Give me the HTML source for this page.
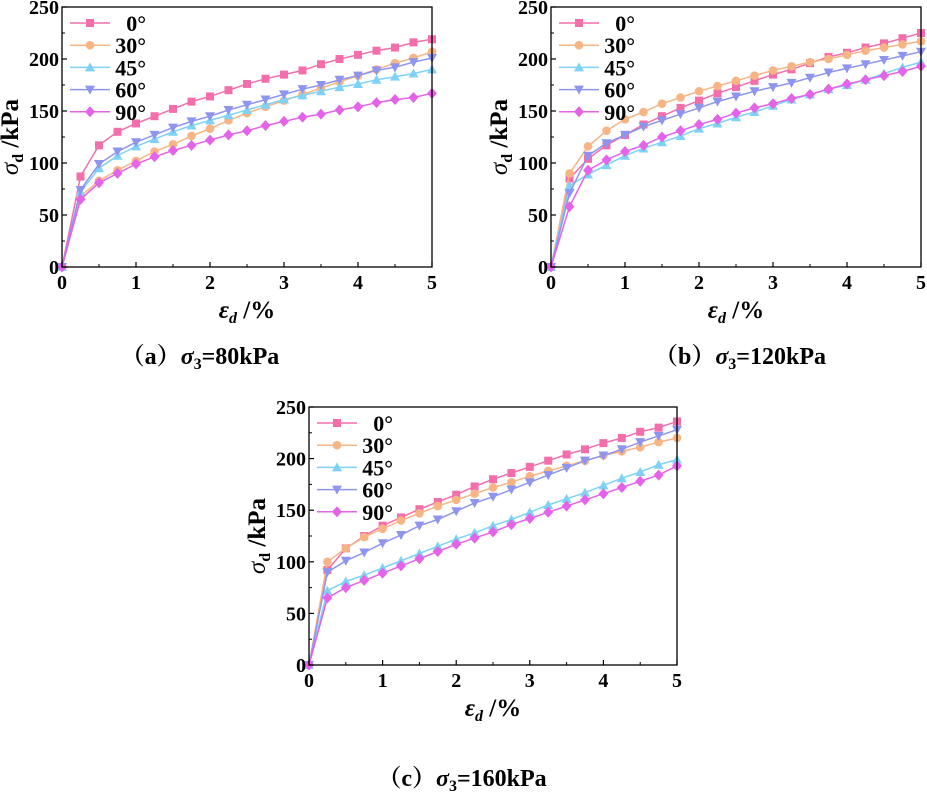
<!DOCTYPE html>
<html><head><meta charset="utf-8"><style>
html,body{margin:0;padding:0;background:#fff;}
svg{display:block;}
text{font-family:"Liberation Serif","Noto Serif CJK SC",serif;font-weight:bold;fill:#000;}
</style></head><body>
<svg id="fig" width="927" height="799" viewBox="0 0 927 799" xmlns="http://www.w3.org/2000/svg"></svg>
<script>
const strainX = [0,0.25,0.5,0.75,1,1.25,1.5,1.75,2,2.25,2.5,2.75,3,3.25,3.5,3.75,4,4.25,4.5,4.75,5];
const seriesNames = ["0°","30°","45°","60°","90°"];
const xTicks = [0,1,2,3,4,5];
const yTicks = [0,50,100,150,200,250];
const panelA0 = [0,87,117,130,138,145,152,159,164,170,176,181,185,189,195,200,204,208,211,216,219];
const panelA30 = [0,68,83,93,102,111,118,126,133,141,148,154,160,166,172,178,184,190,196,201,207];
const panelA45 = [0,72,95,107,116,123,130,136,141,146,151,156,161,165,169,173,176,180,183,186,190];
const panelA60 = [0,74,99,111,120,127,134,140,145,151,156,161,166,171,175,180,184,189,192,197,201];
const panelA90 = [0,65,81,90,99,106,112,117,122,127,131,136,140,144,147,151,154,158,161,163,167];
const panelB0 = [0,85,104,117,127,137,145,153,160,167,173,179,185,190,196,202,206,211,215,220,225];
const panelB30 = [0,90,116,131,142,149,157,163,169,174,179,184,189,193,197,200,204,208,211,214,217];
const panelB45 = [0,78,89,98,107,114,120,126,133,138,144,149,155,161,166,171,175,180,186,192,197];
const panelB60 = [0,71,107,119,127,135,141,147,153,159,164,169,173,177,182,187,191,195,199,203,207];
const panelB90 = [0,58,93,103,111,117,125,131,137,142,148,153,157,162,166,171,176,180,184,188,193];
const panelC0 = [0,92,113,125,135,143,151,158,165,173,180,186,192,198,204,209,215,220,226,230,236];
const panelC30 = [0,100,113,124,132,140,147,154,160,166,172,177,183,188,193,198,203,207,211,216,220];
const panelC45 = [0,72,81,87,94,101,108,115,122,128,135,141,148,155,161,167,174,181,187,194,199];
const panelC60 = [0,90,101,109,118,126,135,141,149,157,163,170,177,184,191,198,203,209,216,222,228];
const panelC90 = [0,65,75,82,89,96,103,110,117,123,129,136,142,148,154,160,166,172,178,184,193];

const colors = ["#f36fac","#f7b585","#7fd2f6","#8e95ee","#e363e9"];
const markers = ["square","circle","triangle","dtriangle","diamond"];
const NS = "http://www.w3.org/2000/svg";
const svg = document.getElementById("fig");
function el(tag, attrs, parent){const e=document.createElementNS(NS,tag);for(const k in attrs)e.setAttribute(k,attrs[k]);(parent||svg).appendChild(e);return e;}

function marker(g,type,x,y,c){
  let m;
  if(type==="square") m=el("rect",{x:x-4,y:y-4,width:8,height:8,fill:c},g);
  else if(type==="circle") m=el("circle",{cx:x,cy:y,r:4.3,fill:c},g);
  else if(type==="triangle") m=el("polygon",{points:`${x},${y-5} ${x-5},${y+4} ${x+5},${y+4}`,fill:c},g);
  else if(type==="dtriangle") m=el("polygon",{points:`${x},${y+5} ${x-5},${y-4} ${x+5},${y-4}`,fill:c},g);
  else m=el("polygon",{points:`${x},${y-5.5} ${x+5},${y} ${x},${y+5.5} ${x-5},${y}`,fill:c},g);
  return m;
}

function panel(id,L,R,T,B,data,caption,capX,capY){
  const g=el("g",{});
  
  
  const sx=v=>L+(v/5)*(R-L);
  const sy=v=>B-(v/250)*(B-T);
  data.forEach((arr,si)=>{
    const sg=el("g",{},g);
    
    
    const pts=arr.map((v,i)=>sx(strainX[i]).toFixed(1)+","+sy(v).toFixed(1)).join(" ");
    el("polyline",{points:pts,fill:"none",stroke:colors[si],"stroke-width":1.5},sg);
    arr.forEach((v,i)=>{const m=marker(sg,markers[si],sx(strainX[i]),sy(v),colors[si]);
      
      });
  });
  const fr=el("rect",{x:L,y:T,width:R-L,height:B-T,fill:"none",stroke:"#000","stroke-width":1.3},g);
  
  
  xTicks.forEach(t=>{
    el("line",{x1:sx(t),x2:sx(t),y1:B,y2:B-5,stroke:"#000","stroke-width":1.2},g);
    if(t<5) el("line",{x1:sx(t+0.5),x2:sx(t+0.5),y1:B,y2:B-3,stroke:"#000","stroke-width":1},g);
    const tx=el("text",{x:sx(t),y:B+22,"text-anchor":"middle","font-size":20},g);tx.textContent=t;
    
    
  });
  yTicks.forEach(t=>{
    el("line",{x1:L,x2:L+5,y1:sy(t),y2:sy(t),stroke:"#000","stroke-width":1.2},g);
    if(t<250) el("line",{x1:L,x2:L+3,y1:sy(t+25),y2:sy(t+25),stroke:"#000","stroke-width":1},g);
    const tx=el("text",{x:L-3,y:sy(t)+7,"text-anchor":"end","font-size":20},g);tx.textContent=t;
    
    
  });
  const yt=el("text",{transform:`translate(${L-44},${(T+B)/2}) rotate(-90)`,"text-anchor":"middle","font-size":25},g);
  yt.innerHTML='<tspan font-style="italic" font-weight="normal">σ</tspan><tspan font-size="16" dy="5">d</tspan><tspan dy="-5"> /kPa</tspan>';
  
  
  const xt=el("text",{x:(L+R)/2,y:B+51,"text-anchor":"middle","font-size":25},g);
  xt.innerHTML='<tspan font-style="italic">ε</tspan><tspan font-style="italic" font-size="16" dy="5">d</tspan><tspan dy="-5"> /%</tspan>';
  
  
  const lg=el("g",{},g);
  
  
  seriesNames.forEach((n,i)=>{
    const y=T+16+i*22.2;
    const eg=el("g",{},lg);
    
    
    el("line",{x1:L+8,x2:L+48,y1:y,y2:y,stroke:colors[i],"stroke-width":1.5},eg);
    marker(eg,markers[i],L+28,y,colors[i]);
    const t=el("text",{x:L+84,y:y+8,"text-anchor":"end","font-size":22},eg);t.textContent=n;
  });
  const cap=el("text",{x:capX,y:capY,"text-anchor":"middle","font-size":24},g);
  cap.innerHTML=caption;
  
  
}
panel("a",62,432,7,267,[panelA0,panelA30,panelA45,panelA60,panelA90],
 '（a）<tspan font-style="italic">σ</tspan><tspan font-size="16" dy="5">3</tspan><tspan dy="-5">=80kPa</tspan>',200,364);
panel("b",551,921,7,267,[panelB0,panelB30,panelB45,panelB60,panelB90],
 '（b）<tspan font-style="italic">σ</tspan><tspan font-size="16" dy="5">3</tspan><tspan dy="-5">=120kPa</tspan>',740,364);
panel("c",309,677,407,665,[panelC0,panelC30,panelC45,panelC60,panelC90],
 '（c）<tspan font-style="italic">σ</tspan><tspan font-size="16" dy="5">3</tspan><tspan dy="-5">=160kPa</tspan>',462,786);
</script>
</body></html>
